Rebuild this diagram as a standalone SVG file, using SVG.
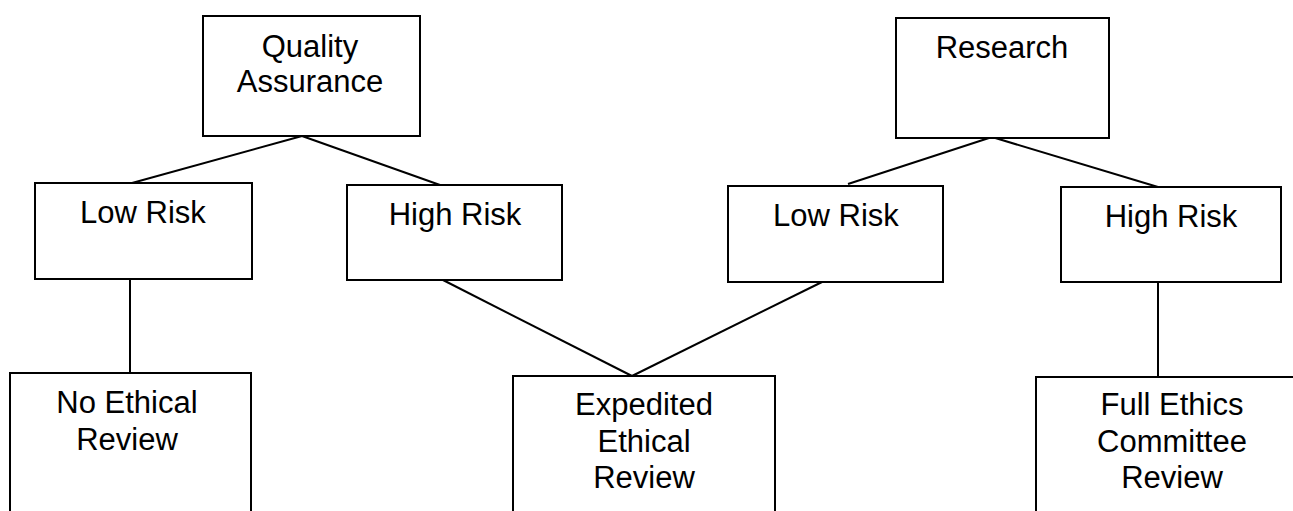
<svg xmlns="http://www.w3.org/2000/svg" width="1293" height="511" viewBox="0 0 1293 511">
<style>
.box{fill:#fff;stroke:#000;stroke-width:2}
.lbl{font-family:"Liberation Sans",Arial,sans-serif;font-size:31px;fill:#000;text-anchor:middle}
.conn line{stroke:#000;stroke-width:2}
</style>
<rect width="1293" height="511" fill="#fff"/>
<g class="conn" id="connectors">
<line x1="302" y1="136" x2="132" y2="183"/>
<line x1="302" y1="136" x2="440" y2="185"/>
<line x1="992" y1="137" x2="848" y2="184"/>
<line x1="992" y1="137" x2="1158" y2="187"/>
<line x1="130" y1="279" x2="130" y2="373"/>
<line x1="443" y1="280" x2="632" y2="376"/>
<line x1="822" y1="282" x2="632" y2="376"/>
<line x1="1158" y1="282" x2="1158" y2="377"/>
</g>
<g id="qa"><rect class="box" x="203" y="16" width="217" height="120"/><text class="lbl" x="310" y="57">Quality</text><text class="lbl" x="310" y="92">Assurance</text></g>
<g id="research"><rect class="box" x="896" y="18" width="213" height="120"/><text class="lbl" x="1002" y="58">Research</text></g>
<g id="qa-low"><rect class="box" x="35" y="183" width="217" height="96"/><text class="lbl" x="143" y="223">Low Risk</text></g>
<g id="qa-high"><rect class="box" x="347" y="185" width="215" height="95"/><text class="lbl" x="455" y="225">High Risk</text></g>
<g id="res-low"><rect class="box" x="728" y="186" width="215" height="96"/><text class="lbl" x="836" y="226">Low Risk</text></g>
<g id="res-high"><rect class="box" x="1061" y="187" width="220" height="95"/><text class="lbl" x="1171" y="227">High Risk</text></g>
<g id="no-review"><rect class="box" x="10" y="373" width="241" height="150"/><text class="lbl" x="127" y="413">No Ethical</text><text class="lbl" x="127" y="450">Review</text></g>
<g id="expedited"><rect class="box" x="513" y="376" width="262" height="150"/><text class="lbl" x="644" y="415">Expedited</text><text class="lbl" x="644" y="452">Ethical</text><text class="lbl" x="644" y="488">Review</text></g>
<g id="full"><rect class="box" x="1036" y="377" width="272" height="150"/><text class="lbl" x="1172" y="415">Full Ethics</text><text class="lbl" x="1172" y="452">Committee</text><text class="lbl" x="1172" y="488">Review</text></g>
</svg>
